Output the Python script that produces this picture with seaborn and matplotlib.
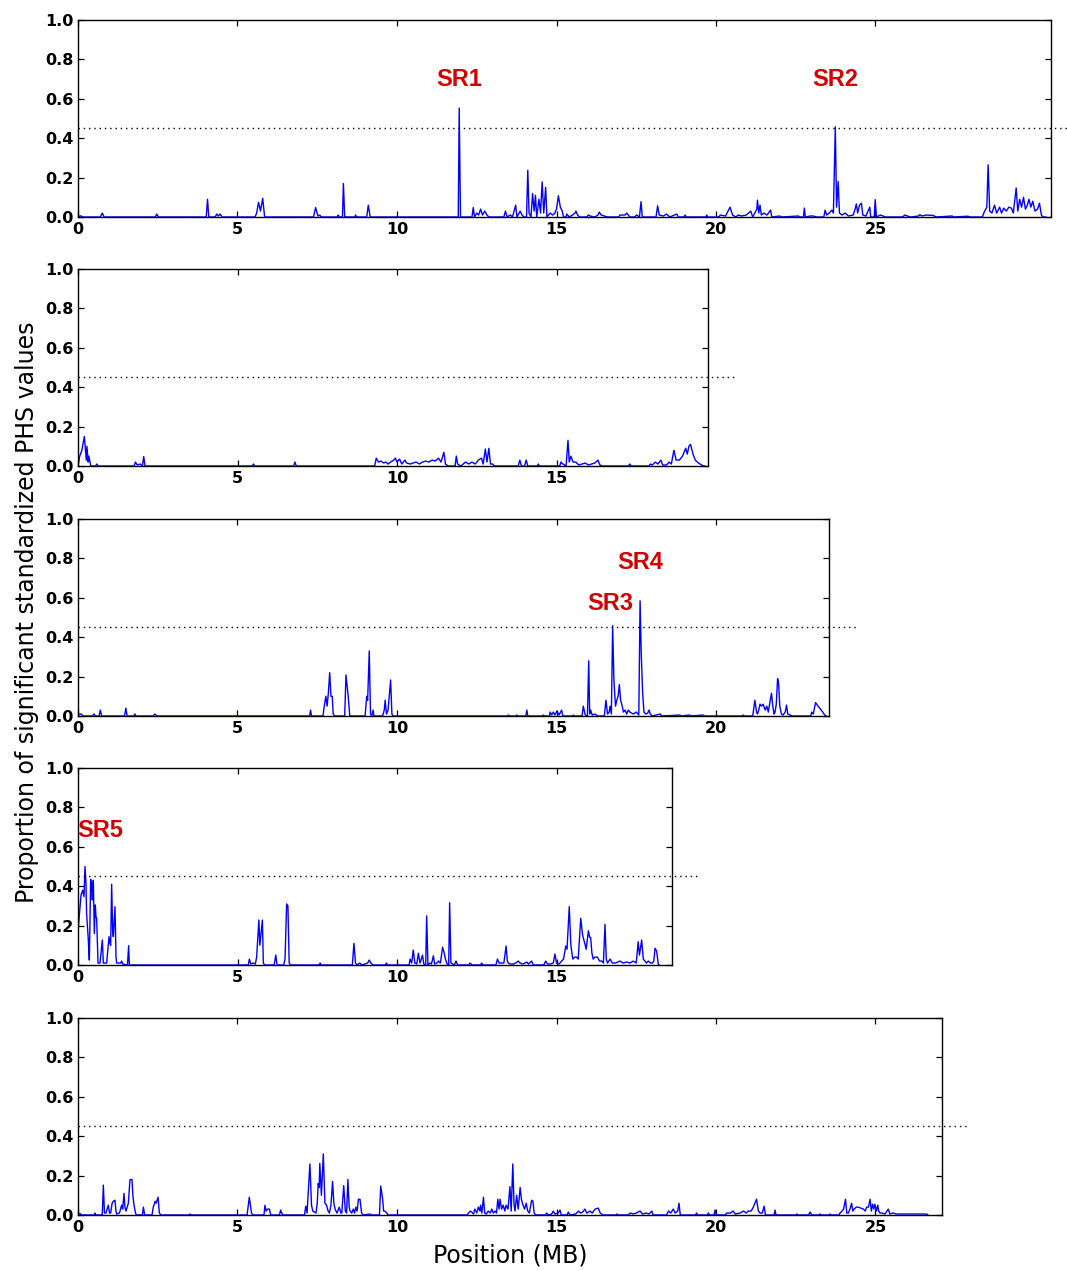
import matplotlib
matplotlib.use("Agg")
import matplotlib.pyplot as plt
import seaborn as sns
import pandas as pd

# Chromosome axis extents (MB) and x tick positions per panel
chrom_names = ["Chr1", "Chr2", "Chr3", "Chr4", "Chr5"]
chrom_xmax = [30.5, 19.75, 23.54, 18.62, 27.08]
chrom_xticks = [[0, 5, 10, 15, 20, 25], [0, 5, 10, 15], [0, 5, 10, 15, 20],
                [0, 5, 10, 15], [0, 5, 10, 15, 20, 25]]
threshold = 0.45
y_ticks = [0.0, 0.2, 0.4, 0.6, 0.8, 1.0]

# (position in MB, proportion of significant standardized PHS values)
chr1_points = [
    (0.0, 0), (0.08, 0.006), (0.16, 0), (0.7, 0), (0.76, 0.02), (0.82, 0), (2.42, 0), (2.47, 0.015),
    (2.52, 0), (4.02, 0), (4.06, 0.09), (4.1, 0), (4.3, 0), (4.35, 0.015), (4.4, 0.005), (4.45, 0.015),
    (4.52, 0), (5.55, 0), (5.6, 0.02), (5.66, 0.075), (5.72, 0.03), (5.79, 0.095), (5.85, 0), (7.38, 0),
    (7.45, 0.048), (7.52, 0.005), (7.58, 0.01), (7.62, 0), (8.12, 0), (8.15, 0.01), (8.2, 0), (8.29, 0),
    (8.32, 0.17), (8.36, 0), (8.68, 0), (8.7, 0.01), (8.73, 0), (9.05, 0), (9.1, 0.06), (9.16, 0),
    (11.92, 0), (11.95, 0.553), (11.99, 0), (12.35, 0), (12.39, 0.048), (12.43, 0), (12.5, 0.02),
    (12.56, 0.01), (12.62, 0.04), (12.68, 0.01), (12.75, 0.03), (12.82, 0.01), (12.88, 0), (13.35, 0),
    (13.4, 0.03), (13.45, 0), (13.55, 0.01), (13.62, 0), (13.72, 0.06), (13.76, 0), (13.86, 0.03),
    (13.92, 0.01), (13.98, 0), (14.06, 0), (14.1, 0.237), (14.14, 0.02), (14.2, 0), (14.25, 0.119),
    (14.3, 0.03), (14.34, 0.11), (14.38, 0), (14.45, 0.09), (14.5, 0.02), (14.55, 0.178), (14.6, 0.02),
    (14.66, 0.15), (14.7, 0), (14.8, 0.02), (14.88, 0.01), (14.95, 0.02), (15.0, 0.04), (15.06, 0.108),
    (15.12, 0.05), (15.18, 0.03), (15.22, 0), (15.3, 0), (15.32, 0.015), (15.4, 0), (15.5, 0.01),
    (15.58, 0.02), (15.61, 0.03), (15.66, 0.01), (15.72, 0), (15.95, 0), (16.0, 0.01), (16.05, 0.005),
    (16.2, 0), (16.3, 0.01), (16.34, 0.025), (16.4, 0.01), (16.5, 0.005), (16.6, 0), (16.95, 0),
    (16.99, 0.01), (17.05, 0.01), (17.15, 0.01), (17.2, 0.02), (17.3, 0), (17.45, 0), (17.51, 0.01),
    (17.6, 0), (17.65, 0.078), (17.69, 0), (18.12, 0), (18.17, 0.057), (18.22, 0.01), (18.35, 0.005),
    (18.45, 0.015), (18.55, 0), (18.7, 0.01), (18.77, 0.015), (18.82, 0), (19.0, 0), (19.03, 0.01),
    (19.07, 0), (19.68, 0), (19.71, 0.01), (19.74, 0), (20.1, 0), (20.13, 0.01), (20.3, 0.005),
    (20.44, 0.05), (20.52, 0.01), (20.62, 0), (20.7, 0.01), (20.8, 0.005), (20.95, 0.01), (21.09, 0.03),
    (21.15, 0), (21.28, 0.04), (21.3, 0.086), (21.34, 0.02), (21.38, 0.06), (21.42, 0.01), (21.5, 0.02),
    (21.6, 0.01), (21.71, 0.035), (21.75, 0), (22.0, 0.005), (22.05, 0), (22.58, 0.005), (22.62, 0),
    (22.74, 0), (22.77, 0.045), (22.8, 0), (22.95, 0.005), (23.05, 0.005), (23.15, 0), (23.38, 0),
    (23.42, 0.035), (23.47, 0.01), (23.55, 0.02), (23.63, 0.035), (23.68, 0.02), (23.74, 0.458),
    (23.78, 0.05), (23.83, 0.18), (23.87, 0.02), (23.95, 0.01), (24.05, 0.02), (24.15, 0.005),
    (24.3, 0.01), (24.36, 0.04), (24.4, 0.066), (24.44, 0.02), (24.5, 0.06), (24.56, 0.07), (24.6, 0.01),
    (24.7, 0.005), (24.82, 0.05), (24.85, 0), (24.96, 0), (24.99, 0.088), (25.03, 0), (25.15, 0.01),
    (25.24, 0.005), (25.3, 0), (25.85, 0), (25.92, 0.01), (26.0, 0.005), (26.1, 0), (26.35, 0.005),
    (26.39, 0.012), (26.45, 0.005), (26.6, 0.01), (26.81, 0.008), (26.9, 0), (27.4, 0.005), (27.45, 0),
    (27.9, 0.004), (27.95, 0), (28.35, 0), (28.42, 0.03), (28.49, 0.05), (28.53, 0.265), (28.58, 0.03),
    (28.65, 0.02), (28.73, 0.06), (28.8, 0.02), (28.89, 0.05), (28.95, 0.02), (29.02, 0.045),
    (29.1, 0.03), (29.18, 0.05), (29.26, 0.045), (29.32, 0.02), (29.41, 0.147), (29.46, 0.03),
    (29.52, 0.09), (29.58, 0.05), (29.64, 0.1), (29.7, 0.04), (29.76, 0.06), (29.81, 0.09), (29.87, 0.05),
    (29.93, 0.08), (30.0, 0.03), (30.08, 0.04), (30.14, 0.07), (30.2, 0.01), (30.25, 0.0), (30.35, 0.0),
]

chr2_points = [
    (0.0, 0.0), (0.05, 0.048), (0.12, 0.08), (0.2, 0.15), (0.26, 0.03), (0.28, 0.1), (0.32, 0.02),
    (0.34, 0.05), (0.4, 0), (0.55, 0), (0.59, 0.01), (0.63, 0), (1.76, 0), (1.8, 0.02), (1.86, 0.005),
    (1.95, 0.01), (2.02, 0), (2.06, 0.048), (2.1, 0), (5.46, 0), (5.5, 0.01), (5.54, 0), (6.76, 0),
    (6.8, 0.02), (6.84, 0), (9.3, 0), (9.35, 0.04), (9.42, 0.02), (9.5, 0.025), (9.58, 0.015),
    (9.65, 0.02), (9.72, 0.01), (9.8, 0.02), (9.9, 0.03), (9.95, 0.04), (10.0, 0.02), (10.08, 0.035),
    (10.15, 0.01), (10.25, 0.03), (10.3, 0.015), (10.42, 0.01), (10.5, 0.015), (10.6, 0.02),
    (10.7, 0.01), (10.8, 0.02), (10.9, 0.025), (11.0, 0.02), (11.1, 0.03), (11.2, 0.025), (11.3, 0.04),
    (11.38, 0.02), (11.47, 0.07), (11.52, 0.01), (11.6, 0), (11.82, 0), (11.86, 0.05), (11.9, 0.01),
    (12.0, 0), (12.15, 0.02), (12.25, 0.01), (12.35, 0.02), (12.45, 0.01), (12.55, 0.03), (12.65, 0.04),
    (12.7, 0.01), (12.77, 0.086), (12.82, 0.02), (12.88, 0.09), (12.93, 0.01), (13.0, 0.01), (13.05, 0),
    (13.8, 0), (13.85, 0.03), (13.9, 0), (14.0, 0), (14.05, 0.03), (14.1, 0), (14.4, 0), (14.43, 0.01),
    (14.46, 0), (15.1, 0), (15.14, 0.02), (15.2, 0.01), (15.3, 0), (15.36, 0.13), (15.4, 0.02),
    (15.45, 0.05), (15.52, 0.02), (15.6, 0.02), (15.7, 0.005), (15.8, 0.01), (15.9, 0.015),
    (16.0, 0.005), (16.1, 0.01), (16.2, 0.015), (16.3, 0.03), (16.36, 0.005), (16.45, 0), (17.25, 0),
    (17.3, 0.01), (17.34, 0), (17.9, 0), (17.94, 0.01), (18.0, 0.005), (18.1, 0.02), (18.18, 0.01),
    (18.27, 0.03), (18.33, 0.005), (18.45, 0.005), (18.53, 0.02), (18.6, 0.01), (18.68, 0.08),
    (18.75, 0.03), (18.85, 0.03), (18.95, 0.05), (19.05, 0.09), (19.1, 0.06), (19.15, 0.1), (19.2, 0.11),
    (19.28, 0.06), (19.35, 0.03), (19.45, 0.015), (19.6, 0.0), (19.65, 0),
]

chr3_points = [
    (0.0, 0.005), (0.05, 0.01), (0.1, 0.01), (0.16, 0), (0.45, 0), (0.5, 0.01), (0.55, 0), (0.66, 0),
    (0.7, 0.03), (0.74, 0), (1.46, 0), (1.5, 0.04), (1.54, 0), (1.75, 0), (1.78, 0.01), (1.82, 0),
    (2.35, 0), (2.41, 0.01), (2.47, 0), (7.26, 0), (7.29, 0.03), (7.32, 0), (7.68, 0), (7.71, 0.04),
    (7.77, 0.1), (7.81, 0.05), (7.85, 0.12), (7.89, 0.22), (7.93, 0.1), (7.97, 0.1), (8.0, 0.01),
    (8.05, 0), (8.36, 0), (8.4, 0.208), (8.47, 0.1), (8.52, 0), (9.0, 0), (9.05, 0.1), (9.08, 0.08),
    (9.13, 0.33), (9.17, 0.01), (9.21, 0), (9.25, 0.03), (9.28, 0), (9.55, 0), (9.6, 0.03), (9.63, 0.08),
    (9.67, 0.01), (9.72, 0.03), (9.8, 0.183), (9.84, 0.01), (9.88, 0), (13.46, 0), (13.49, 0.005),
    (13.53, 0), (13.72, 0), (13.75, 0.005), (13.79, 0), (14.04, 0), (14.07, 0.03), (14.1, 0),
    (14.56, 0), (14.59, 0.005), (14.63, 0), (14.78, 0), (14.8, 0.02), (14.85, 0.005), (14.9, 0.02),
    (14.95, 0.005), (15.01, 0.025), (15.08, 0.005), (15.16, 0.03), (15.2, 0), (15.5, 0), (15.53, 0.005),
    (15.56, 0), (15.8, 0), (15.84, 0.05), (15.9, 0.005), (15.97, 0), (16.01, 0.28), (16.04, 0.01),
    (16.07, 0.03), (16.12, 0.005), (16.2, 0.01), (16.3, 0), (16.5, 0), (16.55, 0.08), (16.6, 0.01),
    (16.65, 0.02), (16.68, 0.05), (16.72, 0.01), (16.76, 0.458), (16.8, 0.18), (16.85, 0.05),
    (16.89, 0.08), (16.93, 0.1), (16.97, 0.16), (17.01, 0.08), (17.06, 0.05), (17.1, 0.02),
    (17.15, 0.03), (17.2, 0.01), (17.25, 0.03), (17.3, 0.02), (17.41, 0.01), (17.5, 0.02),
    (17.58, 0.005), (17.62, 0.585), (17.66, 0.3), (17.7, 0.12), (17.74, 0.02), (17.8, 0.01),
    (17.86, 0.015), (17.9, 0.03), (17.94, 0.01), (18.0, 0), (18.25, 0.01), (18.3, 0), (18.87, 0.005),
    (18.9, 0), (19.18, 0.005), (19.22, 0), (19.6, 0.005), (19.65, 0), (20.82, 0), (20.85, 0.005),
    (20.9, 0), (21.15, 0), (21.22, 0.08), (21.27, 0.02), (21.3, 0.01), (21.34, 0.03), (21.38, 0.06),
    (21.43, 0.05), (21.48, 0.06), (21.54, 0.03), (21.59, 0.05), (21.64, 0.02), (21.7, 0.08),
    (21.74, 0.115), (21.78, 0.05), (21.82, 0.01), (21.85, 0.02), (21.89, 0.06), (21.93, 0.19),
    (21.96, 0.17), (22.0, 0.05), (22.05, 0.01), (22.1, 0.005), (22.17, 0.02), (22.21, 0.055),
    (22.25, 0.01), (22.32, 0.005), (22.4, 0), (22.97, 0), (23.0, 0.02), (23.05, 0.01), (23.12, 0.068),
    (23.2, 0.05), (23.3, 0.03), (23.41, 0.005), (23.45, 0),
]

chr4_points = [
    (0.0, 0.06), (0.01, 0.19), (0.094, 0.355), (0.146, 0.38), (0.188, 0.347), (0.219, 0.5),
    (0.25, 0.415), (0.27, 0.26), (0.324, 0.127), (0.355, 0.025), (0.397, 0.435), (0.428, 0.398),
    (0.449, 0.33), (0.48, 0.43), (0.512, 0.16), (0.543, 0.305), (0.564, 0.245), (0.585, 0.237),
    (0.627, 0.01), (0.69, 0.01), (0.763, 0.127), (0.794, 0.01), (0.899, 0.01), (0.972, 0.144),
    (1.003, 0.11), (1.024, 0.1), (1.055, 0.41), (1.086, 0.178), (1.107, 0.144), (1.16, 0.296),
    (1.191, 0.04), (1.212, 0.01), (1.337, 0.01), (1.369, 0.02), (1.4, 0.005), (1.55, 0), (1.588, 0.098),
    (1.61, 0), (5.34, 0), (5.37, 0.03), (5.42, 0.005), (5.5, 0.01), (5.56, 0.005), (5.6, 0.04),
    (5.67, 0.228), (5.7, 0.1), (5.73, 0.15), (5.78, 0.228), (5.81, 0.01), (5.85, 0), (6.15, 0),
    (6.2, 0.05), (6.24, 0), (6.45, 0), (6.49, 0.03), (6.54, 0.31), (6.58, 0.3), (6.62, 0.01), (6.66, 0),
    (7.56, 0), (7.59, 0.01), (7.62, 0), (8.6, 0), (8.65, 0.11), (8.7, 0.01), (8.75, 0), (8.83, 0.01),
    (8.9, 0), (9.08, 0.01), (9.13, 0.025), (9.18, 0.01), (9.25, 0), (9.64, 0), (9.67, 0.01), (9.7, 0),
    (10.38, 0), (10.41, 0.03), (10.46, 0.01), (10.51, 0.076), (10.56, 0.01), (10.62, 0.005),
    (10.67, 0.06), (10.72, 0.01), (10.8, 0.05), (10.84, 0.005), (10.9, 0), (10.93, 0.249), (10.97, 0),
    (11.03, 0.01), (11.08, 0.005), (11.14, 0.047), (11.18, 0.005), (11.25, 0.01), (11.3, 0.02),
    (11.36, 0.01), (11.43, 0.09), (11.48, 0.06), (11.52, 0.03), (11.57, 0.005), (11.62, 0),
    (11.65, 0.316), (11.69, 0.01), (11.75, 0.005), (11.8, 0), (11.85, 0.02), (11.9, 0), (12.25, 0),
    (12.29, 0.01), (12.35, 0), (12.62, 0), (12.65, 0.01), (12.7, 0), (13.1, 0), (13.15, 0.03),
    (13.2, 0.01), (13.28, 0.01), (13.35, 0.01), (13.42, 0.096), (13.46, 0.02), (13.49, 0.01),
    (13.55, 0.005), (13.65, 0.005), (13.72, 0.01), (13.8, 0.02), (13.86, 0.01), (13.95, 0.005),
    (14.07, 0.015), (14.12, 0.005), (14.22, 0.02), (14.27, 0), (14.6, 0), (14.66, 0.02), (14.72, 0.005),
    (14.8, 0.005), (14.9, 0.01), (14.95, 0.056), (15.0, 0.01), (15.08, 0.005), (15.16, 0.02),
    (15.22, 0.03), (15.29, 0.096), (15.33, 0.08), (15.4, 0.296), (15.45, 0.1), (15.51, 0.03),
    (15.57, 0.04), (15.63, 0.04), (15.68, 0.03), (15.76, 0.237), (15.82, 0.15), (15.87, 0.12),
    (15.93, 0.08), (16.0, 0.174), (16.04, 0.14), (16.07, 0.14), (16.11, 0.06), (16.15, 0.03),
    (16.2, 0.04), (16.28, 0.04), (16.35, 0.02), (16.42, 0.02), (16.47, 0.01), (16.52, 0.206),
    (16.56, 0.03), (16.6, 0.01), (16.68, 0.03), (16.75, 0.01), (16.85, 0.01), (16.99, 0.02),
    (17.08, 0.01), (17.2, 0.015), (17.3, 0.01), (17.41, 0.02), (17.5, 0.01), (17.56, 0.118),
    (17.6, 0.05), (17.67, 0.127), (17.72, 0.03), (17.77, 0.02), (17.82, 0.01), (17.88, 0.02),
    (17.95, 0.01), (18.01, 0.01), (18.05, 0.02), (18.09, 0.085), (18.14, 0.07), (18.19, 0.005),
    (18.22, 0),
]

chr5_points = [
    (0.0, 0), (0.03, 0.005), (0.06, 0.008), (0.1, 0), (0.5, 0), (0.53, 0.01), (0.56, 0), (0.76, 0),
    (0.794, 0.152), (0.83, 0.01), (0.878, 0.01), (0.95, 0.05), (0.99, 0.01), (1.024, 0.01),
    (1.07, 0.06), (1.107, 0.07), (1.16, 0.075), (1.19, 0.02), (1.212, 0.005), (1.3, 0.01),
    (1.369, 0.05), (1.4, 0.03), (1.442, 0.11), (1.47, 0.04), (1.505, 0.02), (1.54, 0.04),
    (1.578, 0.06), (1.63, 0.18), (1.693, 0.18), (1.72, 0.1), (1.755, 0.05), (1.81, 0.005), (1.85, 0),
    (2.02, 0), (2.05, 0.04), (2.09, 0), (2.32, 0), (2.36, 0.04), (2.42, 0.07), (2.45, 0.06),
    (2.51, 0.09), (2.55, 0.01), (2.6, 0), (3.48, 0), (3.51, 0.005), (3.55, 0), (5.3, 0), (5.37, 0.09),
    (5.44, 0.01), (5.48, 0), (5.83, 0), (5.86, 0.049), (5.9, 0.02), (5.94, 0.03), (6.0, 0.03),
    (6.04, 0), (6.32, 0), (6.35, 0.025), (6.4, 0.005), (6.44, 0), (7.1, 0), (7.14, 0.045), (7.18, 0.01),
    (7.27, 0.259), (7.32, 0.05), (7.36, 0.02), (7.46, 0.01), (7.5, 0.06), (7.53, 0.16), (7.56, 0.14),
    (7.58, 0.262), (7.63, 0.1), (7.69, 0.31), (7.74, 0.06), (7.79, 0.05), (7.84, 0.02), (7.88, 0.01),
    (7.93, 0.05), (7.98, 0.17), (8.02, 0.06), (8.06, 0.03), (8.12, 0.01), (8.19, 0.04), (8.24, 0.01),
    (8.27, 0.01), (8.33, 0.149), (8.38, 0.02), (8.42, 0.01), (8.46, 0.18), (8.5, 0.04), (8.53, 0.02),
    (8.58, 0.01), (8.63, 0.03), (8.67, 0.01), (8.71, 0.04), (8.75, 0.02), (8.79, 0.08), (8.84, 0.08),
    (8.89, 0.01), (8.94, 0), (9.15, 0.005), (9.2, 0), (9.45, 0), (9.49, 0.147), (9.55, 0.08),
    (9.58, 0.02), (9.62, 0.02), (9.68, 0.01), (9.72, 0), (12.2, 0), (12.24, 0.01), (12.3, 0.02),
    (12.34, 0.015), (12.4, 0.005), (12.44, 0.03), (12.5, 0.01), (12.55, 0.04), (12.6, 0.02),
    (12.62, 0.05), (12.66, 0.01), (12.71, 0.09), (12.75, 0.01), (12.8, 0.005), (12.86, 0.02),
    (12.92, 0.01), (12.97, 0.03), (13.02, 0.01), (13.07, 0.02), (13.12, 0.01), (13.16, 0.08),
    (13.2, 0.03), (13.23, 0.08), (13.28, 0.03), (13.33, 0.05), (13.38, 0.02), (13.42, 0.05),
    (13.48, 0.03), (13.54, 0.144), (13.58, 0.02), (13.63, 0.259), (13.67, 0.05), (13.7, 0.02),
    (13.75, 0.1), (13.8, 0.03), (13.86, 0.14), (13.9, 0.08), (13.95, 0.05), (14.0, 0.03), (14.05, 0.06),
    (14.1, 0.02), (14.15, 0.01), (14.22, 0.075), (14.26, 0.07), (14.3, 0.01), (14.35, 0),
    (14.65, 0), (14.69, 0.01), (14.75, 0), (14.85, 0.005), (14.9, 0.02), (14.95, 0.005), (15.05, 0.01),
    (15.11, 0.025), (15.15, 0), (15.33, 0), (15.37, 0.015), (15.42, 0), (15.6, 0.005), (15.69, 0.02),
    (15.75, 0.01), (15.82, 0.015), (15.89, 0.03), (15.95, 0.01), (16.05, 0.02), (16.12, 0.01),
    (16.21, 0.03), (16.31, 0.035), (16.37, 0.01), (16.45, 0), (16.86, 0), (16.89, 0.005), (16.93, 0),
    (17.25, 0), (17.31, 0.01), (17.4, 0.005), (17.5, 0.01), (17.62, 0.02), (17.7, 0.005), (17.8, 0.01),
    (17.9, 0.005), (17.99, 0.02), (18.03, 0), (18.45, 0), (18.51, 0.02), (18.58, 0.01), (18.66, 0.03),
    (18.72, 0.01), (18.8, 0.02), (18.84, 0.06), (18.88, 0), (19.36, 0), (19.39, 0.01), (19.43, 0),
    (19.73, 0), (19.76, 0.01), (19.8, 0), (19.94, 0), (19.97, 0.025), (20.01, 0), (20.3, 0),
    (20.33, 0.01), (20.45, 0.01), (20.54, 0.02), (20.6, 0.005), (20.75, 0.01), (20.86, 0.02),
    (20.95, 0.01), (21.01, 0.02), (21.1, 0.02), (21.17, 0.04), (21.27, 0.08), (21.33, 0.02),
    (21.38, 0.01), (21.45, 0.01), (21.51, 0.045), (21.55, 0), (21.82, 0), (21.85, 0.025), (21.88, 0),
    (22.5, 0), (22.53, 0.005), (22.57, 0), (22.9, 0), (22.95, 0.015), (23.0, 0), (23.23, 0),
    (23.26, 0.005), (23.3, 0), (23.54, 0), (23.57, 0.005), (23.6, 0), (23.85, 0), (23.89, 0.01),
    (23.95, 0.02), (24.0, 0.03), (24.06, 0.08), (24.1, 0.01), (24.15, 0.01), (24.2, 0.03),
    (24.25, 0.06), (24.29, 0.02), (24.33, 0.03), (24.4, 0.04), (24.46, 0.04), (24.54, 0.035),
    (24.62, 0.03), (24.68, 0.02), (24.72, 0.04), (24.78, 0.04), (24.83, 0.08), (24.87, 0.02),
    (24.91, 0.055), (24.95, 0.03), (24.98, 0.055), (25.03, 0.02), (25.07, 0.05), (25.1, 0.02),
    (25.14, 0.01), (25.2, 0.01), (25.3, 0.005), (25.4, 0.03), (25.45, 0.005), (25.55, 0.01),
    (25.65, 0.005), (25.77, 0.005), (25.9, 0.005), (26.05, 0.005), (26.19, 0.005), (26.35, 0.005),
    (26.5, 0.005), (26.61, 0.004), (26.65, 0),
]

# Selected-region labels: (panel index, x, y, text)
region_labels = [
    (0, 11.95, 0.70, "SR1"),
    (0, 23.74, 0.70, "SR2"),
    (2, 16.7, 0.57, "SR3"),
    (2, 17.62, 0.78, "SR4"),
    (3, 0.69, 0.685, "SR5"),
]

all_points = [chr1_points, chr2_points, chr3_points, chr4_points, chr5_points]

sns.set_style("ticks")
plt.rcParams.update({
    "font.family": ["DejaVu Sans"],
    "text.color": "black",
    "axes.labelcolor": "black",
    "xtick.color": "black",
    "ytick.color": "black",
    "xtick.direction": "in",
    "ytick.direction": "in",
    "xtick.top": True,
    "ytick.right": True,
    "xtick.major.size": 4,
    "ytick.major.size": 4,
    "xtick.major.width": 0.9,
    "ytick.major.width": 0.9,
    "axes.linewidth": 1.0,
    "axes.edgecolor": "black",
})

fig = plt.figure(figsize=(10.67, 12.71), dpi=100)

left = 78 / 1067
px_per_mb = 31.9 / 1067
height = 197 / 1271
bottoms = [1 - 217 / 1271, 1 - 466 / 1271, 1 - 716 / 1271, 1 - 965 / 1271, 1 - 1215 / 1271]

axes = []
for i, pts in enumerate(all_points):
    xmax = chrom_xmax[i]
    ax = fig.add_axes([left, bottoms[i], xmax * px_per_mb, height])
    df = pd.DataFrame(pts, columns=["position", "proportion"])
    sns.lineplot(data=df, x="position", y="proportion", ax=ax, estimator=None,
                 sort=False, color="#0000ff", lw=1.0)
    ax.plot([0, xmax + 0.85], [threshold, threshold], color="black", lw=1.0,
            dashes=(1, 2.8), clip_on=False)
    ax.set_xlim(0, xmax)
    ax.set_ylim(0, 1)
    ax.set_xticks(chrom_xticks[i])
    ax.set_xticklabels([str(t) for t in chrom_xticks[i]])
    ax.set_yticks(y_ticks)
    ax.set_yticklabels([f"{t:.1f}" for t in y_ticks])
    ax.tick_params(axis="both", labelsize=11.5, pad=3.5, colors="black")
    for lab in ax.get_xticklabels() + ax.get_yticklabels():
        lab.set_fontweight("bold")
    ax.set_xlabel("")
    ax.set_ylabel("")
    for sp in ax.spines.values():
        sp.set_visible(True)
        sp.set_color("black")
    axes.append(ax)

for idx, x, y, txt in region_labels:
    axes[idx].text(x, y, txt, ha="center", va="center", color="#d40000",
                   fontsize=17, fontweight="bold", family=["Liberation Sans"])

fig.text(0.0255, 1 - 612 / 1271, "Proportion of significant standardized PHS values",
         rotation=90, ha="center", va="center", fontsize=17, color="black")
fig.text(510 / 1067, 1 - 1255 / 1271, "Position (MB)", ha="center", va="center",
         fontsize=17, color="black")

fig.savefig("out.png", dpi=100)
